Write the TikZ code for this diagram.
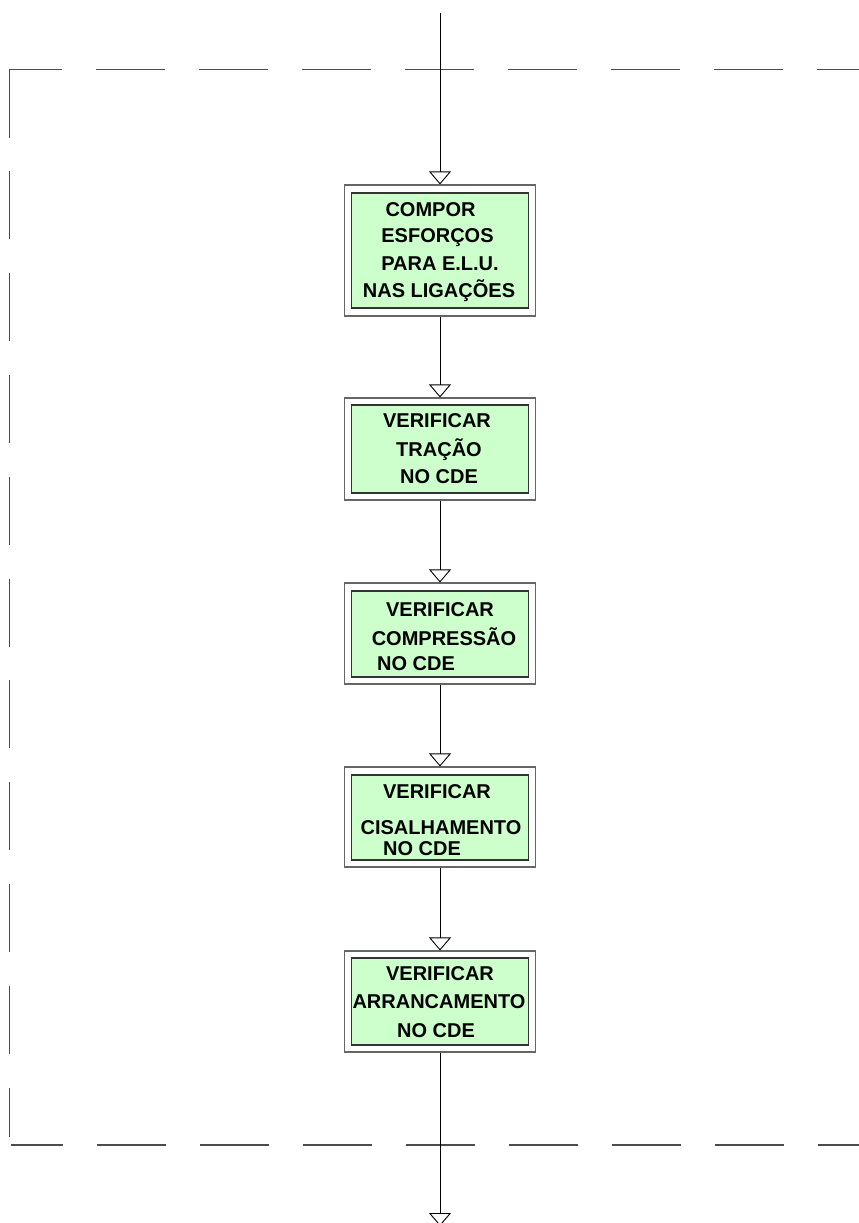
\documentclass[tikz,border=0pt]{standalone}
\usepackage{fontspec}
\setmainfont{Liberation Sans}
\usetikzlibrary{arrows.meta}
\definecolor{boxfill}{HTML}{CCFFCC}
\begin{document}
\begin{tikzpicture}[x=1pt,y=-1pt,
  frame/.style={draw=black!70, line width=1.1pt},
  outerbox/.style={draw=black!60, line width=1.1pt, fill=white, minimum width=191pt, inner sep=0pt},
  innerbox/.style={draw=black!80, line width=1.1pt, fill=boxfill, minimum width=177pt, inner sep=0pt},
  txt/.style={font=\bfseries\fontsize{20}{24}\selectfont, inner sep=0pt, anchor=base},
  flow/.style={draw=black, line width=0.9pt, -{Triangle[open, width=22pt, length=13pt]}}]
\useasboundingbox (0,0) rectangle (859,1223);
\clip (0,0) rectangle (859,1223);

% dashed boundary of the block
\draw[frame, dash pattern=on 69pt off 34pt, dash phase=16pt] (9,69.5) -- (880,69.5);
\draw[frame, dash pattern=on 68pt off 33.8pt] (9.3,69.5) -- (9.3,1137);
\draw[frame, dash pattern=on 69pt off 34pt, dash phase=17pt] (11,1145) -- (880,1145);

% process boxes: outer frame plus green inner panel
\node[outerbox, minimum height=131pt] (b1) at (440,250.5) {};
\node[innerbox, minimum height=115pt] (b1i) at (440,250.5) {};
\node[outerbox, minimum height=102pt] (b2) at (440,449) {};
\node[innerbox, minimum height=88pt] (b2i) at (440,449) {};
\node[outerbox, minimum height=101pt] (b3) at (440,633.5) {};
\node[innerbox, minimum height=86pt] (b3i) at (440,634) {};
\node[outerbox, minimum height=100pt] (b4) at (440,817) {};
\node[innerbox, minimum height=85pt] (b4i) at (440,817.5) {};
\node[outerbox, minimum height=101pt] (b5) at (440,1001.5) {};
\node[innerbox, minimum height=87pt] (b5i) at (440,1001.5) {};

% box texts
\node[txt] (t1a) at (430.5,216.5) {COMPOR};
\node[txt] (t1b) at (437.5,242.5) {ESFORÇOS};
\node[txt] (t1c) at (440,270.5) {PARA E.L.U.};
\node[txt] (t1d) at (439,297.5) {NAS LIGAÇÕES};

\node[txt] (t2a) at (437,427) {VERIFICAR};
\node[txt] (t2b) at (439,456) {TRAÇÃO};
\node[txt] (t2c) at (439,483) {NO CDE};

\node[txt] (t3a) at (440,616) {VERIFICAR};
\node[txt] (t3b) at (444,645) {COMPRESSÃO};
\node[txt] (t3c) at (416,670) {NO CDE};

\node[txt] (t4a) at (437,798) {VERIFICAR};
\node[txt] (t4b) at (441,834) {CISALHAMENTO};
\node[txt] (t4c) at (422,855) {NO CDE};

\node[txt] (t5a) at (440,980) {VERIFICAR};
\node[txt] (t5b) at (439,1008) {ARRANCAMENTO};
\node[txt] (t5c) at (436,1037) {NO CDE};

% flow connectors
\coordinate (in) at (440,13);
\coordinate (out) at (440,1226);
\draw[flow] (in) -- (b1.north);
\draw[flow] (b1.south) -- (b2.north);
\draw[flow] (b2.south) -- (b3.north);
\draw[flow] (b3.south) -- (b4.north);
\draw[flow] (b4.south) -- (b5.north);
\draw[flow] (b5.south) -- (out);
\end{tikzpicture}
\end{document}
